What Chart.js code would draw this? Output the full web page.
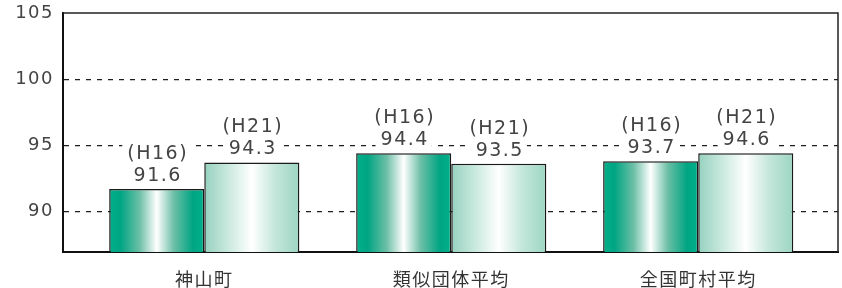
<!DOCTYPE html>
<html lang="ja">
<head>
<meta charset="UTF-8">
<title>財政力 比較</title>
<script src="https://cdn.jsdelivr.net/npm/chart.js"></script>
<style>
  html, body { margin: 0; padding: 0; background: #fff; }
  #wrap { width: 842px; height: 288px; }
</style>
</head>
<body>
<div id="wrap"><canvas id="chart"></canvas></div>
<script>
// data
const categories = ["神山町", "類似団体平均", "全国町村平均"];
const seriesNames = ["(H16)", "(H21)"];
const barH16 = [91.7, 94.4, 93.8];   // bar heights as drawn
const barH21 = [93.7, 93.6, 94.4];
const textH16 = ["91.6", "94.4", "93.7"]; // printed labels
const textH21 = ["94.3", "93.5", "94.6"];
const yTicks = [90, 95, 100, 105];

const FONT = "'DejaVu Sans', 'Noto Sans CJK JP', sans-serif";
const CAT_PCT = 0.77;

function barGradient(c, stops) {
    const chart = c.chart;
    const xs = chart.scales.x;
    if (!xs || c.dataIndex === undefined) return stops[0][1];
    const unit = xs.getPixelForValue(1) - xs.getPixelForValue(0);
    const w = unit * CAT_PCT / 2;
    const center = xs.getPixelForValue(c.dataIndex);
    const left = c.datasetIndex === 0 ? center - w : center;
    if (!isFinite(left) || !isFinite(w) || w <= 0) return stops[0][1];
    const g = chart.ctx.createLinearGradient(left, 0, left + w, 0);
    stops.forEach(s => g.addColorStop(s[0], s[1]));
    return g;
}

const darkStops = [[0, "#00b08b"], [0.12, "#00a583"], [0.32, "#6cbfa6"], [0.5, "#ffffff"], [0.68, "#6cbfa6"], [0.88, "#00a583"], [1, "#00b08b"]];
const lightStops = [[0, "#96d1bf"], [0.25, "#c9e9de"], [0.5, "#ffffff"], [0.75, "#c3e6da"], [1, "#9cd5c3"]];

const labelPlugin = {
    id: "barLabels",
    afterDatasetsDraw(chart) {
        const ctx = chart.ctx;
        const texts = [textH16, textH21];
        ctx.save();
        ctx.font = "19px " + FONT;
        ctx.letterSpacing = "1.5px";
        ctx.textAlign = "center";
        ctx.textBaseline = "middle";
        chart.data.datasets.forEach((ds, di) => {
            chart.getDatasetMeta(di).data.forEach((el, i) => {
                const lines = [[seriesNames[di], el.y - 35], [texts[di][i], el.y - 13]];
                lines.forEach(([t, y]) => {
                    const w = ctx.measureText(t).width;
                    ctx.fillStyle = "#ffffff";
                    ctx.fillRect(el.x - w / 2 - 4, y - 9, w + 8, 18);
                    ctx.fillStyle = "#444444";
                    ctx.fillText(t, el.x + 1, y);
                });
            });
        });
        ctx.restore();
    }
};

const framePlugin = {
    id: "frame",
    beforeDraw(chart) {
        chart.ctx.letterSpacing = "1.5px";
    },
    afterDraw(chart) {
        const a = chart.chartArea;
        const ctx = chart.ctx;
        ctx.save();
        ctx.strokeStyle = "#222";
        ctx.lineWidth = 1.5;
        ctx.beginPath();
        ctx.moveTo(a.left, a.top);
        ctx.lineTo(a.right, a.top);
        ctx.lineTo(a.right, a.bottom);
        ctx.stroke();
        ctx.restore();
    }
};

new Chart(document.getElementById("chart"), {
    type: "bar",
    data: {
        datasets: [
            {
                label: seriesNames[0],
                data: barH16.map((v, i) => ({ x: i, y: v })),
                backgroundColor: c => barGradient(c, darkStops),
                borderColor: "#1a1a1a",
                borderWidth: 1.5
            },
            {
                label: seriesNames[1],
                data: barH21.map((v, i) => ({ x: i, y: v })),
                backgroundColor: c => barGradient(c, lightStops),
                borderColor: "#1a1a1a",
                borderWidth: 1.5
            }
        ]
    },
    options: {
        responsive: true,
        maintainAspectRatio: false,
        animation: false,
        layout: { padding: { left: 0, right: 4, top: 13, bottom: 0 } },
        datasets: { bar: { categoryPercentage: CAT_PCT, barPercentage: 1 } },
        plugins: { legend: { display: false }, tooltip: { enabled: false } },
        scales: {
            x: {
                type: "linear",
                offset: false,
                min: -0.572,
                max: 2.566,
                afterBuildTicks: s => { s.ticks = categories.map((c, i) => ({ value: i })); },
                afterFit: s => { s.height = 36; s.paddingLeft = 0; s.paddingRight = 0; },
                grid: { display: false },
                border: { display: true, color: "#111", width: 2 },
                ticks: {
                    padding: 11,
                    color: "#333",
                    font: { family: FONT, size: 18 },
                    callback: v => categories[v]
                }
            },
            y: {
                min: 86.93,
                max: 105,
                afterBuildTicks: s => { s.ticks = yTicks.map(v => ({ value: v })); },
                afterFit: s => { s.width = 63; s.paddingTop = 0; s.paddingBottom = 0; },
                grid: {
                    drawTicks: false,
                    color: c => (c.tick && c.tick.value === 105 ? "rgba(0,0,0,0)" : "#1e1e1e"),
                    lineWidth: 1.2
                },
                border: { display: true, color: "#111", width: 2, dash: [5, 6] },
                ticks: {
                    padding: 9,
                    color: "#444",
                    font: { family: FONT, size: 18 }
                }
            }
        }
    },
    plugins: [labelPlugin, framePlugin]
});
</script>
</body>
</html>
